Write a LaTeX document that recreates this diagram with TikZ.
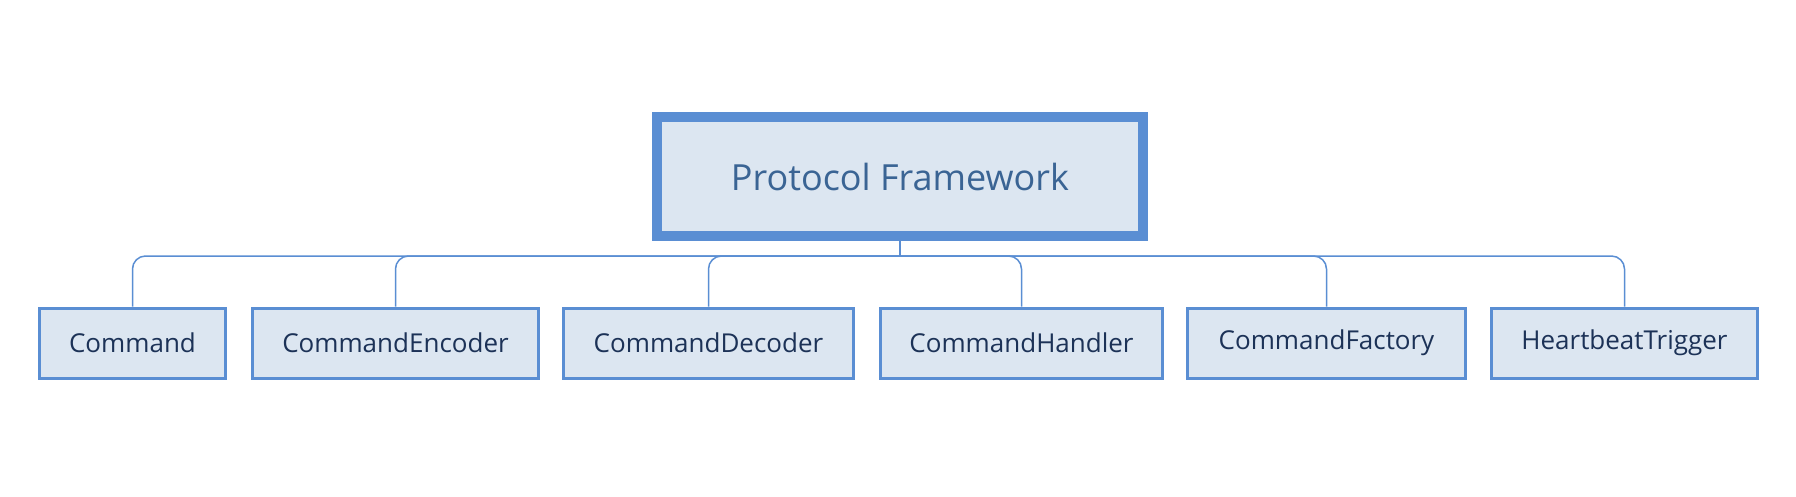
\documentclass[tikz,border=0pt]{standalone}
\usepackage{fontspec}
\setmainfont{Open Sans}
\definecolor{bordblue}{HTML}{5A8ED3}
\definecolor{fillblue}{HTML}{DCE6F1}
\definecolor{roottext}{HTML}{3A6494}
\definecolor{childtext}{HTML}{1C3257}
\begin{document}
\begin{tikzpicture}[x=1pt,y=-1pt,
  rootbox/.style={draw=bordblue, line width=10pt, fill=fillblue, minimum width=486pt, minimum height=119pt, inner sep=0pt, text=roottext, font=\fontsize{36}{40}\selectfont},
  childbox/.style={draw=bordblue, line width=3pt, fill=fillblue, minimum height=70pt, inner sep=0pt, text=childtext, font=\fontsize{26}{30}\selectfont},
  conn/.style={draw=bordblue, line width=1.5pt}]
\useasboundingbox[fill=white] (0,0) rectangle (1796,496);
\node[rootbox] (root) at (900,176.5) {Protocol Framework};
\node[childbox, minimum width=186pt] (c1) at (132.5,343) {Command};
\node[childbox, minimum width=286pt] (c2) at (395.5,343) {CommandEncoder};
\node[childbox, minimum width=290pt] (c3) at (708.5,343) {CommandDecoder};
\node[childbox, minimum width=282pt] (c4) at (1021.5,343) {CommandHandler};
\node[childbox, minimum width=278pt] (c5) at (1326.5,343) {CommandFactory};
\node[childbox, minimum width=266pt] (c6) at (1624.5,343) {HeartbeatTrigger};
\coordinate (bus) at (900,256);
\draw[conn] (root.south) -- (bus);
\foreach \c in {c1,c2,c3,c4,c5,c6}
  \draw[conn, rounded corners=13pt] (bus) -| (\c.north);
\end{tikzpicture}
\end{document}
